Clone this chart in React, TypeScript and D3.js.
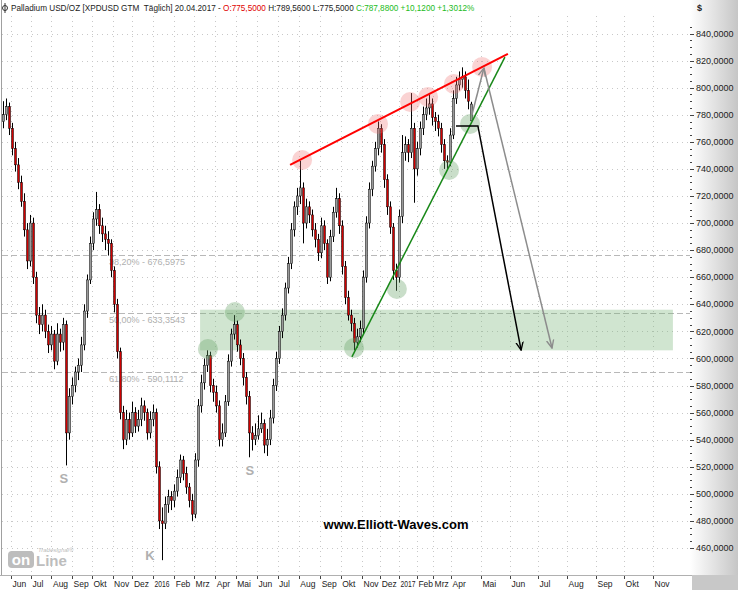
import React from "react";
import * as d3 from "d3";

// ---- Price data (one bar ≈ 3 trading days) ----
const opens = [
  775, 780, 786, 770, 755, 743, 730, 716, 695, 672,
  700, 660, 632, 625, 632, 620, 610, 618, 598, 618,
  612, 625, 545, 572, 580, 590, 595, 610, 635, 658,
  685, 703, 710, 698, 692, 688, 685, 665, 640, 605,
  560, 540, 555, 545, 560, 550, 555, 565, 560, 545,
  555, 560, 520, 480, 478, 492, 498, 495, 502, 512,
  525, 515, 505, 495, 485, 525, 565, 582, 595, 602,
  580, 575, 565, 540, 545, 568, 598, 618, 625, 610,
  600, 586, 572, 545, 540, 543, 548, 552, 536, 540,
  556, 580, 600, 620, 632, 652, 670, 695, 712, 720,
  726, 700, 712, 706, 695, 688, 678, 698, 685, 660,
  690, 708, 718, 698, 668, 645, 632, 626, 612, 616,
  622, 660, 700, 725, 742, 755, 770, 758, 732, 712,
  697, 665, 660, 705, 752, 758, 752, 770, 740, 755,
  770, 780, 785, 788, 778, 775, 770, 758, 746, 745,
  765, 792, 802, 806, 808, 798, 775.5,
];
const highs = [
  790, 792, 789, 774, 760, 748, 735, 722, 700, 706,
  704, 664, 638, 640, 636, 625, 624, 621, 626, 622,
  630, 628, 578, 586, 594, 600, 616, 640, 662, 690,
  708, 723, 714, 704, 698, 694, 688, 668, 644, 608,
  565, 562, 560, 568, 564, 562, 571, 569, 563, 561,
  566, 563, 524, 490, 498, 503, 502, 507, 518, 529,
  528, 520, 508, 500, 530, 570, 588, 600, 606, 605,
  585, 580, 569, 552, 573, 603, 622, 632, 628, 614,
  604, 590, 576, 550, 552, 558, 560, 555, 548, 562,
  585, 605, 624, 637, 656, 675, 700, 716, 726, 746,
  730, 718, 716, 710, 700, 692, 704, 702, 688, 695,
  712, 726, 722, 702, 672, 650, 636, 630, 622, 628,
  665, 705, 730, 746, 760, 775, 773, 762, 736, 716,
  700, 670, 710, 765, 764, 762, 796, 774, 760, 775,
  786, 792, 795, 792, 782, 780, 774, 762, 750, 770,
  798, 808, 812, 815, 812, 806, 789.56,
];
const lows = [
  770, 776, 765, 750, 738, 725, 712, 690, 666, 668,
  655, 626, 618, 620, 615, 604, 606, 592, 595, 605,
  606, 521, 540, 566, 575, 584, 590, 606, 630, 655,
  680, 698, 692, 686, 680, 676, 660, 634, 600, 555,
  533, 536, 540, 542, 545, 546, 550, 554, 540, 541,
  550, 515, 474, 451, 474, 486, 488, 490, 498, 508,
  510, 500, 490, 480, 482, 520, 560, 577, 590, 575,
  568, 560, 535, 535, 542, 565, 594, 614, 605, 595,
  580, 566, 527, 532, 536, 540, 545, 530, 528, 536,
  552, 576, 596, 615, 628, 648, 666, 690, 706, 714,
  685, 696, 700, 690, 682, 672, 674, 680, 655, 657,
  686, 704, 692, 662, 640, 628, 620, 606, 608, 612,
  618, 656, 696, 720, 738, 750, 752, 726, 706, 692,
  658, 650, 656, 700, 746, 745, 748, 715, 735, 750,
  765, 776, 780, 772, 768, 764, 752, 740, 740, 742,
  762, 788, 798, 800, 792, 784, 775.5,
];
const closes = [
  780, 786, 770, 755, 743, 730, 716, 695, 672, 700,
  660, 632, 625, 632, 620, 610, 618, 598, 618, 612,
  625, 545, 572, 580, 590, 595, 610, 635, 658, 685,
  703, 710, 698, 692, 688, 685, 665, 640, 605, 560,
  540, 555, 545, 560, 550, 555, 565, 560, 545, 555,
  560, 520, 480, 478, 492, 498, 495, 502, 512, 525,
  515, 505, 495, 485, 525, 565, 582, 595, 602, 580,
  575, 565, 540, 545, 568, 598, 618, 625, 610, 600,
  586, 572, 545, 540, 543, 548, 552, 536, 540, 556,
  580, 600, 620, 632, 652, 670, 695, 712, 720, 726,
  700, 712, 706, 695, 688, 678, 698, 685, 660, 690,
  708, 718, 698, 668, 645, 632, 626, 612, 616, 622,
  660, 700, 725, 742, 755, 770, 758, 732, 712, 697,
  665, 660, 705, 752, 758, 752, 770, 740, 755, 770,
  780, 785, 788, 778, 775, 770, 758, 746, 745, 765,
  792, 802, 806, 808, 798, 790, 787.88,
];

// ---- Axis data ----
const yTicks = d3.range(460, 841, 20);
const monthLabels = [
  "Jun", "Jul", "Aug", "Sep", "Okt", "Nov", "Dez",
  "2016", "Feb", "Mrz", "Apr", "Mai", "Jun", "Jul", "Aug", "Sep", "Okt", "Nov", "Dez",
  "2017", "Feb", "Mrz", "Apr", "Mai", "Jun", "Jul", "Aug", "Sep", "Okt", "Nov",
];

// ---- Fibonacci levels ----
const fibLevels = [676.5975, 633.3543, 590.1112];
const fibLabels = ["38,20% - 676,5975", "50,00% - 633,3543", "61,80% - 590,1112"];

// ---- Annotations (bar index, price) ----
const redCircleIdx = [99.7, 125, 135.7, 141.7, 150.3, 159.7];
const redCirclePrice = [746.6, 773.2, 789.4, 793.1, 802.7, 815.3];
const greenCircleIdx = [68.3, 77.3, 117, 131.3, 148.7, 155.7];
const greenCirclePrice = [607, 634.3, 607.7, 651.3, 739.2, 773.2];
const redLineIdx = [95.7, 168.3];
const redLinePrice = [742.9, 824.9];
const greenLineIdx = [116.3, 167.3];
const greenLinePrice = [601.1, 822.6];
const blackPathIdx = [151, 158.3, 172.7];
const blackPathPrice = [771.7, 771.7, 606.2];
const grayPathIdx = [156.3, 160.3, 183];
const grayPathPrice = [779.8, 814.5, 607.7];
const zoneIdx = [65.7, 223.3];
const zonePrice = [606, 636];
const waveLetters = ["S", "S", "K"];
const waveIdx = [20.3, 82.3, 49];
const wavePrice = [511.7, 517.6, 454.8];

const FONT = "'Liberation Sans', Arial, sans-serif";

export default function App() {
  const W = 738;
  const H = 590;
  const plotRight = 690;
  const axisTop = 575;

  const x = d3.scaleLinear().domain([0, closes.length - 1]).range([3, 471]);
  const y = d3.scaleLinear().domain([460, 840]).range([548, 33.5]);
  const months = d3.timeMonth.range(new Date(2015, 5, 1), new Date(2017, 11, 1));
  const t = d3
    .scaleTime()
    .domain([
      new Date(2015, 5, 1), new Date(2016, 0, 1), new Date(2016, 5, 1), new Date(2016, 10, 1),
      new Date(2017, 0, 1), new Date(2017, 3, 1), new Date(2017, 4, 1), new Date(2017, 10, 1),
    ])
    .range([11, 153, 257, 362, 399, 451, 481, 653]);
  const fmt = (v: number) => d3.format(".4f")(v).replace(".", ",");
  const minorTicks = d3.range(460, 846, 5).filter((v) => v % 20 !== 0);

  const line = d3.line<[number, number]>().x((d) => x(d[0])).y((d) => y(d[1]));

  return (
    <svg
      width={W}
      height={H}
      style={{ position: "absolute", left: 0, top: 0, background: "#fff" }}
      fontFamily={FONT}
    >
      <defs>
        <linearGradient id="panel" x1="0" x2="1" y1="0" y2="0">
          <stop offset="0" stopColor="#ffffff" />
          <stop offset="1" stopColor="#c6c6c6" />
        </linearGradient>
        <marker id="ahBlack" viewBox="0 0 10 10" refX="9" refY="5" markerWidth="9" markerHeight="9"
          markerUnits="userSpaceOnUse" orient="auto">
          <path d="M0,1 L9,5 L0,9" fill="none" stroke="#000" strokeWidth="1.5" />
        </marker>
        <marker id="ahGray" viewBox="0 0 10 10" refX="9" refY="5" markerWidth="9" markerHeight="9"
          markerUnits="userSpaceOnUse" orient="auto">
          <path d="M0,1 L9,5 L0,9" fill="none" stroke="#8c8c8c" strokeWidth="1.5" />
        </marker>
      </defs>

      {/* right axis panel */}
      <rect x={plotRight} y={0} width={W - plotRight} height={axisTop} fill="url(#panel)" />
      <rect x={plotRight + 2} y={axisTop} width={W - plotRight - 2} height={H - axisTop} fill="#c8c8c8" />

      {/* grid */}
      {yTicks.map((v) => (
        <line key={"gy" + v} x1={2} x2={plotRight} y1={Math.round(y(v)) + 0.5} y2={Math.round(y(v)) + 0.5}
          stroke="#c8c8c8" strokeDasharray="1,4" />
      ))}
      {months.map((m, i) => (
        <line key={"gx" + i} x1={Math.round(t(m)) + 0.5} x2={Math.round(t(m)) + 0.5} y1={16} y2={axisTop}
          stroke="#c8c8c8" strokeDasharray="1,4" />
      ))}

      {/* left border */}
      <line x1={1.5} x2={1.5} y1={0} y2={axisTop} stroke="#a0a0a0" />

      {/* fib levels */}
      {fibLevels.map((v, i) => (
        <g key={"fib" + i}>
          <line x1={2} x2={plotRight} y1={Math.round(y(v)) + 0.5} y2={Math.round(y(v)) + 0.5}
            stroke="#b8b8b8" strokeDasharray="6,3" />
          <text x={x(35.3)} y={y(v) + 10} fontSize={9} fill="#b0b0b0">{fibLabels[i]}</text>
        </g>
      ))}

      {/* target zone */}
      <rect x={x(zoneIdx[0])} y={y(zonePrice[1])} width={x(zoneIdx[1]) - x(zoneIdx[0])}
        height={y(zonePrice[0]) - y(zonePrice[1])} fill="rgb(120,180,120)" fillOpacity={0.35} />

      {/* candles */}
      {closes.map((c, i) => {
        const o = opens[i];
        const cx = Math.round(x(i));
        const top = y(Math.max(o, c));
        const bot = y(Math.min(o, c));
        const down = c < o;
        return (
          <g key={"b" + i}>
            <line x1={cx + 0.5} x2={cx + 0.5} y1={y(highs[i])} y2={y(lows[i])} stroke="#000" />
            <rect x={cx - 0.5} y={top} width={2} height={Math.max(1, bot - top)}
              fill={down ? "#d00000" : "#9a9a9a"} stroke="#000" strokeWidth={0.5} />
          </g>
        );
      })}

      {/* circles */}
      {redCircleIdx.map((d, i) => (
        <circle key={"rc" + i} cx={x(d)} cy={y(redCirclePrice[i])} r={10} fill="rgb(240,110,110)" fillOpacity={0.3} />
      ))}
      {greenCircleIdx.map((d, i) => (
        <circle key={"gc" + i} cx={x(d)} cy={y(greenCirclePrice[i])} r={10} fill="rgb(100,160,100)" fillOpacity={0.35} />
      ))}

      {/* trend lines */}
      <path d={line(redLineIdx.map((d, i) => [d, redLinePrice[i]]) as any) || ""} stroke="#ff0000" strokeWidth={2} fill="none" />
      <path d={line(greenLineIdx.map((d, i) => [d, greenLinePrice[i]]) as any) || ""} stroke="#188818" strokeWidth={1.5} fill="none" />

      {/* arrows */}
      <path d={line([[grayPathIdx[0], grayPathPrice[0]], [grayPathIdx[1], grayPathPrice[1]]]) || ""}
        stroke="#8c8c8c" strokeWidth={1.5} fill="none" markerEnd="url(#ahGray)" />
      <path d={line([[grayPathIdx[1], grayPathPrice[1]], [grayPathIdx[2], grayPathPrice[2]]]) || ""}
        stroke="#8c8c8c" strokeWidth={1.5} fill="none" markerEnd="url(#ahGray)" />
      <path d={line(blackPathIdx.map((d, i) => [d, blackPathPrice[i]]) as any) || ""}
        stroke="#000" strokeWidth={1.5} fill="none" markerEnd="url(#ahBlack)" />

      {/* wave letters */}
      {waveLetters.map((s, i) => (
        <text key={"w" + i} x={x(waveIdx[i])} y={y(wavePrice[i])} dy="0.35em" textAnchor="middle"
          fontSize={13} fontWeight="bold" fill="#b0b0b0">{s}</text>
      ))}

      {/* watermark */}
      <text x={x(131)} y={y(477.7)} dy="0.35em" textAnchor="middle" fontSize={13} fontWeight="bold" fill="#000">
        www.Elliott-Waves.com
      </text>

      {/* logo */}
      <g>
        <rect x={8} y={551} width={26} height={17} rx={4} fill="#bdbdbd" />
        <text x={21} y={565} textAnchor="middle" fontSize={15} fontWeight="bold" fill="#fff">on</text>
        <text x={36} y={566} fontSize={15} fontWeight="bold" fill="#bdbdbd">Line</text>
        <text x={38} y={552} fontSize={6} fontStyle="italic" fill="#bdbdbd">Tradesignal®</text>
      </g>

      {/* right axis */}
      {minorTicks.map((v) => (
        <line key={"mt" + v} x1={plotRight} x2={plotRight + 2} y1={Math.round(y(v)) + 0.5} y2={Math.round(y(v)) + 0.5} stroke="#444" />
      ))}
      {yTicks.map((v) => (
        <g key={"yt" + v}>
          <line x1={plotRight} x2={plotRight + 4} y1={Math.round(y(v)) + 0.5} y2={Math.round(y(v)) + 0.5} stroke="#444" />
          <text x={plotRight + 6} y={y(v)} dy="0.35em" fontSize={9} fill="#222">{fmt(v)}</text>
        </g>
      ))}
      <text x={697} y={11} fontSize={9} fontWeight="bold" fill="#222">$</text>

      {/* bottom axis */}
      <rect x={0} y={axisTop} width={plotRight + 2} height={H - axisTop} fill="#fff" />
      <line x1={0} x2={plotRight + 2} y1={axisTop + 0.5} y2={axisTop + 0.5} stroke="#b0b0b0" />
      {months.map((m, i) => {
        const isYear = /^\d{4}$/.test(monthLabels[i]);
        return (
          <g key={"xt" + i}>
            <line x1={Math.round(t(m)) + 0.5} x2={Math.round(t(m)) + 0.5} y1={axisTop + 1} y2={axisTop + 4} stroke="#444" />
            <text x={t(m) + 1.5} y={587} fontSize={8.5} fill="#222"
              {...(isYear ? { textLength: 15, lengthAdjust: "spacingAndGlyphs" } : {})}>{monthLabels[i]}</text>
          </g>
        );
      })}

      {/* header */}
      <g>
        <circle cx={5} cy={8} r={2.5} fill="none" stroke="#333" />
        <line x1={5} x2={5} y1={3} y2={13} stroke="#333" />
        <text x={11} y={11} fontSize={8.2} fill="#222" xmlSpace="preserve">
          <tspan>Palladium USD/OZ [XPDUSD GTM{"\u00a0\u00a0"}Täglich] 20.04.2017 - </tspan>
          <tspan fill="#e00000">O:775,5000</tspan>
          <tspan> H:789,5600 L:775,5000 </tspan>
          <tspan fill="#22bb22">C:787,8800 +10,1200 +1,3012%</tspan>
        </text>
      </g>
    </svg>
  );
}
